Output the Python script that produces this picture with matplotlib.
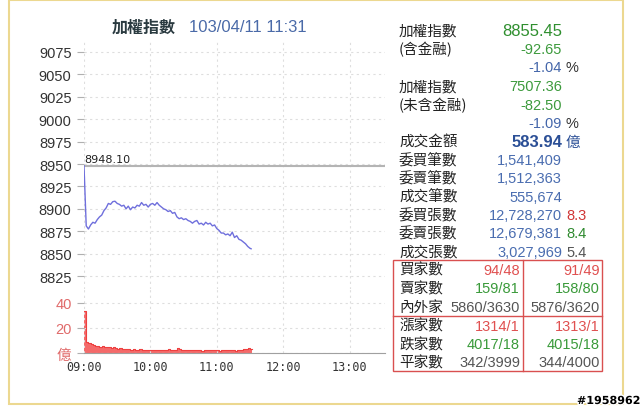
import matplotlib.pyplot as plt
import matplotlib.patches as patches
import matplotlib.patheffects as pe

plt.rcParams['font.family'] = ['Liberation Sans', 'Noto Sans CJK TC', 'DejaVu Sans']
CJK = ['Noto Sans CJK TC', 'DejaVu Sans']

# price, minutes after 09:00
price_t = list(range(0, 151, 2)) + [151]
price = [8948.1, 8881, 8877.5, 8882, 8885, 8884, 8888, 8891, 8893, 8898,
         8901, 8906, 8905, 8908, 8908.5, 8906, 8905, 8903, 8904, 8900,
         8903, 8899, 8902, 8901, 8904, 8903, 8907, 8904, 8905, 8902,
         8905, 8906, 8904, 8907, 8904, 8902, 8900, 8899, 8897, 8898,
         8895, 8896, 8891, 8889, 8890, 8888, 8889, 8887, 8886, 8884,
         8886, 8887, 8883, 8884, 8882, 8885, 8883, 8884, 8881, 8882,
         8878, 8876, 8873, 8873, 8871, 8872, 8870, 8874, 8868, 8870,
         8866, 8865, 8863, 8861, 8858, 8856, 8855.45]
prev_close = 8948.10

# volume (億), 2-minute buckets
vol_t = list(range(0, 151, 2))
vol = [34, 8.5, 8, 7, 6.5, 6, 5.5, 5, 5.5, 5, 4.5, 5, 4, 4.5, 4, 3.5, 4, 3.5,
       3, 3.2, 3, 2.8, 3, 2.5, 2.8, 3, 2.5, 2.3, 2.5, 2.2, 2.5, 2.3, 2.5, 2.2,
       2.8, 2.5, 2.3, 2.6, 3, 2.5, 2.3, 2.8, 4, 3, 2.5, 2.7, 2.3, 2.5, 2.2,
       2.8, 2.4, 2.2, 2.5, 2, 2.3, 2.1, 2.5, 2.7, 2.5, 2.2, 2.4, 2, 2.2, 2.5,
       2.2, 2.4, 2.1, 2.3, 2, 2.2, 2.3, 2.5, 3, 3.5, 4, 3.5]

price_ticks = [8825, 8850, 8875, 8900, 8925, 8950, 8975, 9000, 9025, 9050, 9075]
time_ticks = [0, 60, 120, 180, 240]
time_labels = ['09:00', '10:00', '11:00', '12:00', '13:00']

info_labels = ['加權指數', '(含金融)', '', '加權指數', '(未含金融)', '',
               '成交金額', '委買筆數', '委賣筆數', '成交筆數', '委買張數', '委賣張數', '成交張數']
info_values = ['8855.45', '-92.65', '-1.04', '7507.36', '-82.50', '-1.09',
               '583.94', '1,541,409', '1,512,363', '555,674', '12,728,270', '12,679,381', '3,027,969']
info_colors = ['#2f8f2f', '#3c9a3c', '#4466aa', '#3c9a3c', '#3c9a3c', '#4466aa',
               '#2b4f96', '#4a6db0', '#4a6db0', '#4a6db0', '#4a6db0', '#4a6db0', '#4a6db0']
info_suffix = ['', '', '%', '', '', '%', '億', '', '', '', '8.3', '8.4', '5.4']
suffix_colors = ['', '', '#333333', '', '', '#333333', '#2b4f96', '', '', '', '#d03535', '#2f8a2f', '#555555']

table_labels = ['買家數', '賣家數', '內外家', '漲家數', '跌家數', '平家數']
table_left = ['94/48', '159/81', '5860/3630', '1314/1', '4017/18', '342/3999']
table_right = ['91/49', '158/80', '5876/3620', '1313/1', '4015/18', '344/4000']
table_colors = ['#e05050', '#3a9a3a', '#555555', '#e05050', '#3a9a3a', '#555555']

W, H = 640, 410
fig = plt.figure(figsize=(W / 100, H / 100), dpi=100)
fig.patch.set_facecolor('white')


def fx(x):
    return x / W


def fy(y):
    return 1 - y / H


# outer yellow frame
fig.add_artist(patches.Rectangle((fx(9), fy(405)), fx(623) - fx(9), fy(1) - fy(405),
                                 transform=fig.transFigure, fill=False,
                                 edgecolor='#ecd890', lw=1.5))

grid_kw = dict(color='#dedede', linestyle=(0, (2, 3)), linewidth=0.8)
x0, x1 = fx(84), fx(385)

ax = fig.add_axes([x0, fy(290), x1 - x0, fy(40) - fy(290)])
ax.plot(price_t, price, color='#6f6fdc', lw=1.0, zorder=3)
ax.axhline(prev_close, color='#b4b4b4', lw=1.5, zorder=2)
ax.text(0.5, prev_close + 1.5, '8948.10', fontsize=8, color='#222222',
        family='DejaVu Sans', va='bottom', ha='left')
ax.set_xlim(0, 272)
ax.set_ylim(8810.6, 9089.4)
ax.set_yticks(price_ticks)
ax.set_xticks(time_ticks)
ax.tick_params(axis='y', length=5, color='#b0b0b0', labelsize=10.5, labelcolor='#333333', pad=4)
ax.tick_params(axis='x', length=0, labelbottom=False)
ax.grid(True, **grid_kw)
for s in ax.spines.values():
    s.set_visible(False)

axv = fig.add_axes([x0, fy(354), x1 - x0, fy(290) - fy(354)])
axv.fill_between(vol_t + [152], vol + [vol[-1]], step='post', color='#f46a6a', lw=0)
axv.step(vol_t + [152], vol + [vol[-1]], where='post', color='#ee4040', lw=0.8)
axv.set_xlim(0, 272)
axv.set_ylim(0, 51.2)
axv.set_yticks([0, 20, 40])
axv.set_yticklabels(['億', '20', '40'])
axv.get_yticklabels()[0].set_family(CJK)
axv.set_xticks(time_ticks)
axv.set_xticklabels(time_labels)
axv.tick_params(axis='y', length=5, color='#b0b0b0', labelsize=10.5, labelcolor='#e06a6a', pad=4)
axv.tick_params(axis='x', length=0, labelsize=8.5, labelcolor='#333333', pad=5)
for lab in axv.get_xticklabels():
    lab.set_family('DejaVu Sans Mono')
axv.grid(True, **grid_kw)
for s in axv.spines.values():
    s.set_visible(False)
axv.spines['bottom'].set_visible(True)
axv.spines['bottom'].set_color('#a0a0a0')

# title
fig.text(fx(112), fy(28), '加權指數', family=CJK, fontsize=11.5, fontweight='bold',
         color='#2a3a40', va='center', ha='left')
fig.text(fx(189), fy(28), '103/04/11 11:31', fontsize=12, color='#4a6aa8',
         va='center', ha='left')

# right info panel
row_y = [31.7, 50, 68, 87, 106, 124, 142.7, 161, 179.3, 197.6, 216, 234.3, 252.6]
for i, y in enumerate(row_y):
    if info_labels[i]:
        fig.text(fx(399), fy(y), info_labels[i], family=CJK, fontsize=10.5,
                 color='#222222', va='center', ha='left')
    size = 12 if i in (0, 6) else 10.5
    fig.text(fx(562), fy(y), info_values[i], fontsize=size, color=info_colors[i],
             va='center', ha='right', fontweight='semibold' if i == 6 else 'normal')
    if info_suffix[i]:
        fig.text(fx(566), fy(y), info_suffix[i], fontsize=10.5, color=suffix_colors[i],
                 family=CJK if info_suffix[i] == '億' else None,
                 va='center', ha='left')

# breadth table
tl, tt, tr, tb = 393.3, 261, 601.7, 371.7
red = '#d95050'
fig.add_artist(patches.Rectangle((fx(tl), fy(tb)), fx(tr) - fx(tl), fy(tt) - fy(tb),
                                 transform=fig.transFigure, fill=False, edgecolor=red, lw=1))
fig.add_artist(plt.Line2D([fx(523.3)] * 2, [fy(tt), fy(tb)], transform=fig.transFigure,
                          color=red, lw=1))
fig.add_artist(plt.Line2D([fx(tl), fx(tr)], [fy(316.7)] * 2, transform=fig.transFigure,
                          color=red, lw=1))
table_y = [270.7, 289.3, 307.7, 326.7, 345, 363.3]
for i, y in enumerate(table_y):
    fig.text(fx(399), fy(y), table_labels[i], family=CJK, fontsize=10.5,
             color='#222222', va='center', ha='left')
    fig.text(fx(520), fy(y), table_left[i], fontsize=10.5, color=table_colors[i],
             va='center', ha='right')
    fig.text(fx(600), fy(y), table_right[i], fontsize=10.5, color=table_colors[i],
             va='center', ha='right')

# watermark
fig.text(fx(577), fy(402), '#1958962', fontsize=8, fontweight='bold', color='black',
         family='DejaVu Sans', va='center', ha='left',
         path_effects=[pe.withStroke(linewidth=2, foreground='white')])

fig.savefig('out.png', dpi=100)
